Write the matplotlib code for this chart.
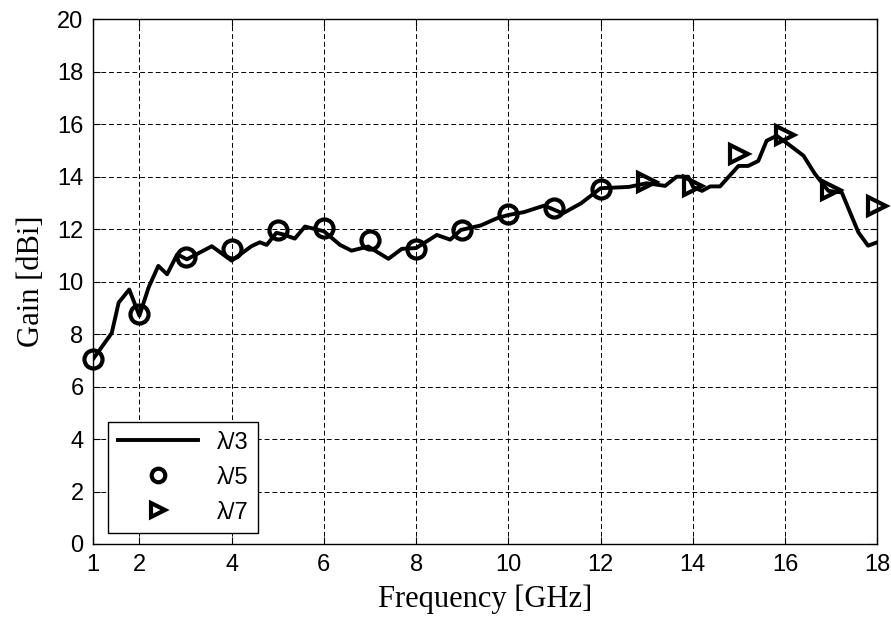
import matplotlib.pyplot as plt

# Ganancia medida (línea continua, lambda/3)
line_f = [1.0, 1.4, 1.55, 1.78, 2.0, 2.2, 2.41, 2.6, 2.82, 3.03, 3.57, 4.0, 4.43,
          4.61, 4.76, 4.97, 5.12, 5.37, 5.59, 6.0, 6.35, 6.6, 6.96, 7.4, 7.69, 8.0,
          8.45, 8.74, 8.97, 9.4, 9.76, 10.0, 10.34, 10.78, 11.18, 11.58, 12.0, 12.61,
          13.0, 13.4, 13.65, 13.9, 14.01, 14.2, 14.38, 14.59, 14.99, 15.2, 15.42,
          15.6, 15.82, 16.07, 16.4, 16.65, 16.94, 17.23, 17.59, 17.8, 18.0]
line_g = [7.06, 8.04, 9.2, 9.7, 8.7, 9.78, 10.6, 10.28, 11.04, 10.85, 11.35, 10.8,
          11.35, 11.5, 11.4, 11.86, 11.8, 11.64, 12.1, 11.92, 11.4, 11.18, 11.34,
          10.87, 11.25, 11.28, 11.78, 11.6, 11.97, 12.14, 12.42, 12.54, 12.65, 12.9,
          12.6, 12.99, 13.56, 13.61, 13.75, 13.65, 14.0, 14.0, 13.6, 13.46, 13.63,
          13.63, 14.41, 14.41, 14.6, 15.37, 15.56, 15.24, 14.8, 14.1, 13.46, 13.4,
          11.88, 11.37, 11.5]

# lambda/5 (círculos) y lambda/7 (triángulos)
f5 = [1, 2, 3, 4, 5, 6, 7, 8, 9, 10, 11, 12]
g5 = [7.06, 8.77, 10.94, 11.26, 11.98, 12.05, 11.6, 11.25, 11.95, 12.57, 12.8, 13.53]
f7 = [13, 14, 15, 16, 17, 18]
g7 = [13.78, 13.65, 14.86, 15.58, 13.49, 12.89]

xticks = [1, 2, 4, 6, 8, 10, 12, 14, 16, 18]
yticks = list(range(0, 21, 2))

fig = plt.figure(figsize=(8.91, 6.26), dpi=100)
ax = fig.add_axes([0.1047, 0.131, 0.8799, 0.8382])

ax.plot(line_f, line_g, color='black', lw=2.8, label='λ/3', zorder=3)
ax.plot(f5, g5, ls='none', marker='o', ms=13, mfc='none', mec='black', mew=3,
        label='λ/5', clip_on=False, zorder=4)
ax.plot(f7, g7, ls='none', marker='>', ms=13, mfc='none', mec='black', mew=3,
        label='λ/7', clip_on=False, zorder=4)

ax.set_xlim(1, 18)
ax.set_ylim(0, 20)
ax.set_xticks(xticks)
ax.set_yticks(yticks)
ax.grid(True, color='black', ls=(0, (5, 3)), lw=0.7)
ax.tick_params(direction='in', top=True, right=True, length=5, labelsize=17,
               pad=7)
for lab in ax.get_xticklabels() + ax.get_yticklabels():
    lab.set_family('Liberation Sans')
for s in ax.spines.values():
    s.set_linewidth(1)

ax.set_xlabel('Frequency [GHz]', family='Liberation Serif', fontsize=22,
              labelpad=6)
ax.set_ylabel('Gain [dBi]', family='Liberation Serif', fontsize=22, labelpad=8)

leg = ax.legend(loc='lower left', bbox_to_anchor=(0.019, 0.021), fancybox=False,
                framealpha=1, edgecolor='black', handlelength=3.4,
                prop={'family': 'Liberation Sans', 'size': 17},
                borderpad=0.4, labelspacing=0.55, borderaxespad=0,
                markerscale=0.75)
leg.get_frame().set_linewidth(1)

fig.savefig('out.png', dpi=100)
